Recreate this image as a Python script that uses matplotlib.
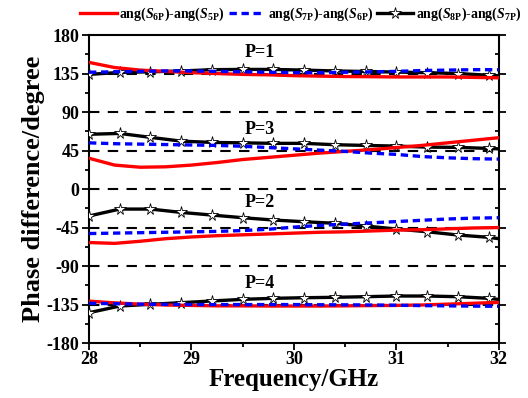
import matplotlib
matplotlib.use("Agg")
import matplotlib.pyplot as plt

# frequency grid (GHz) for the red / blue curves
freq = [28.0, 28.25, 28.5, 28.75, 29.0, 29.25, 29.5, 29.75, 30.0,
        30.25, 30.5, 30.75, 31.0, 31.25, 31.5, 31.75, 32.0]
# frequency grid for the black curves (stars every 0.3 GHz)
freq_star = [28.0, 28.3, 28.6, 28.9, 29.2, 29.5, 29.8, 30.1, 30.4,
             30.7, 31.0, 31.3, 31.6, 31.9, 32.0]

# ang(S6P)-ang(S5P)
red_p1 = [148, 142, 139, 137.5, 136, 135, 134, 133.5, 132.5, 132, 131.5, 131.3, 131, 131, 131, 130.5, 130]
red_p3 = [36, 28, 25.5, 26, 28, 31, 34.5, 37, 39.5, 42, 44, 46, 48.5, 51, 54, 57, 60]
red_p2 = [-62.5, -63.5, -61, -58, -56, -54.5, -53.5, -52.5, -51.5, -50.5, -50, -49, -48, -47.5, -46.5, -45.5, -45]
red_p4 = [-131, -133, -134.5, -135.5, -136, -136.5, -136.5, -136.7, -136.7, -136.7, -136.5, -136.2, -136, -135.5, -134.5, -133.5, -132.5]

# ang(S7P)-ang(S6P)
blue_p1 = [136.5, 137, 137.5, 138, 138, 137.5, 137, 136.5, 136, 136, 136.5, 137, 137.5, 138.5, 139, 139.5, 139.5]
blue_p3 = [54, 53, 52.5, 52, 51.5, 51, 50, 48.5, 47, 45.5, 44, 42, 40.5, 38, 36.5, 35.5, 35]
blue_p2 = [-52, -51.5, -51, -50.5, -50, -49.5, -48.5, -47, -44.5, -42.5, -41, -39.5, -38, -36.5, -35, -34, -33.5]
blue_p4 = [-133.5, -134, -134.5, -134.8, -135, -135, -135, -135, -135, -135.2, -135.3, -135.5, -135.8, -136.2, -136.5, -136.8, -137]

# ang(S8P)-ang(S7P)
black_p1 = [134, 136.3, 137, 138, 139.5, 139.8, 139.8, 139, 138, 137.4, 136.7, 136, 135, 133, 132.5]
black_p3 = [64, 65, 60.4, 56, 54.5, 54, 53.4, 53.4, 51.8, 51, 50.2, 49, 48.7, 47.5, 47]
black_p2 = [-31.5, -23.4, -23.4, -27.3, -30.4, -33.5, -36.2, -38.2, -40, -43.2, -46.7, -49.9, -53.7, -56.4, -58]
black_p4 = [-144.5, -136.7, -134.7, -132.8, -130.8, -128.9, -127.7, -127, -126.5, -125.8, -125, -125, -125.8, -127.7, -129]

labels = [r"ang($S_{\mathrm{6P}}$)-ang($S_{\mathrm{5P}}$)",
          r"ang($S_{\mathrm{7P}}$)-ang($S_{\mathrm{6P}}$)",
          r"ang($S_{\mathrm{8P}}$)-ang($S_{\mathrm{7P}}$)"]
p_texts = [("P=1", 29.67, 159), ("P=3", 29.67, 70), ("P=2", 29.67, -16), ("P=4", 29.67, -110)]

plt.rcParams["font.family"] = "Liberation Serif"
plt.rcParams["font.weight"] = "bold"
plt.rcParams["axes.unicode_minus"] = False
plt.rcParams["mathtext.fontset"] = "custom"
plt.rcParams["mathtext.rm"] = "Liberation Serif:bold"
plt.rcParams["mathtext.it"] = "Liberation Serif:italic:bold"
plt.rcParams["mathtext.bf"] = "Liberation Serif:bold"

fig = plt.figure(figsize=(5.28, 3.98), dpi=100)
ax = fig.add_axes([0.1686, 0.138, 0.776, 0.774])

# dashed reference lines
for yv in [-135, -90, -45, 0, 45, 90, 135]:
    ax.axhline(yv, color="black", lw=1.5, ls=(0, (5, 4)), zorder=1)

lw = 2.4
for i, (r, b, k) in enumerate(zip([red_p1, red_p3, red_p2, red_p4],
                                  [blue_p1, blue_p3, blue_p2, blue_p4],
                                  [black_p1, black_p3, black_p2, black_p4])):
    ax.plot(freq_star, k, color="black", lw=lw, marker="*", ms=8.5,
            mfc="white", mec="black", mew=0.6, markevery=list(range(14)),
            label=labels[2] if i == 0 else None, zorder=3)
    ax.plot(freq, r, color="red", lw=lw, label=labels[0] if i == 0 else None, zorder=4)
    ax.plot(freq, b, color="blue", lw=lw, ls=(0, (2.2, 1.4)),
            label=labels[1] if i == 0 else None, zorder=5)

for txt, x, y in p_texts:
    ax.text(x, y, txt, fontsize=13, fontweight="bold", ha="center", va="center")

ax.set_xlim(28, 32)
ax.set_ylim(-180, 180)
ax.set_xticks([28, 29, 30, 31, 32])
ax.set_xticks([28.5, 29.5, 30.5, 31.5], minor=True)
ax.set_yticks(range(-180, 181, 45))
ax.set_yticks([v + 22.5 for v in range(-180, 180, 45)], minor=True)
ax.tick_params(axis="both", which="major", labelsize=13, width=1.3, length=5)
ax.tick_params(axis="both", which="minor", width=1.3, length=3)
ax.tick_params(axis="x", which="both", direction="out", top=False)
ax.tick_params(axis="y", which="both", direction="out", right=True)
for t in ax.yaxis.get_majorticklines()[1::2] + ax.yaxis.get_minorticklines()[1::2]:
    t.set_marker(matplotlib.markers.TICKLEFT)
for s in ax.spines.values():
    s.set_linewidth(1.5)
ax.xaxis.set_tick_params(pad=1)
ax.yaxis.set_tick_params(pad=2)

ax.set_xlabel("Frequency/GHz", fontsize=18, fontweight="bold", labelpad=0)
ax.set_ylabel("Phase difference/degree", fontsize=19, fontweight="bold", labelpad=1)

handles, labs = ax.get_legend_handles_labels()
order = [labs.index(l) for l in labels]
fig.legend([handles[o] for o in order], [labs[o] for o in order],
           loc="center", bbox_to_anchor=(0.57, 0.965), ncol=3, frameon=False,
           fontsize=10, handlelength=2.6, handletextpad=0.2, columnspacing=0.3,
           borderpad=0.1)

fig.savefig("out.png", dpi=100)
